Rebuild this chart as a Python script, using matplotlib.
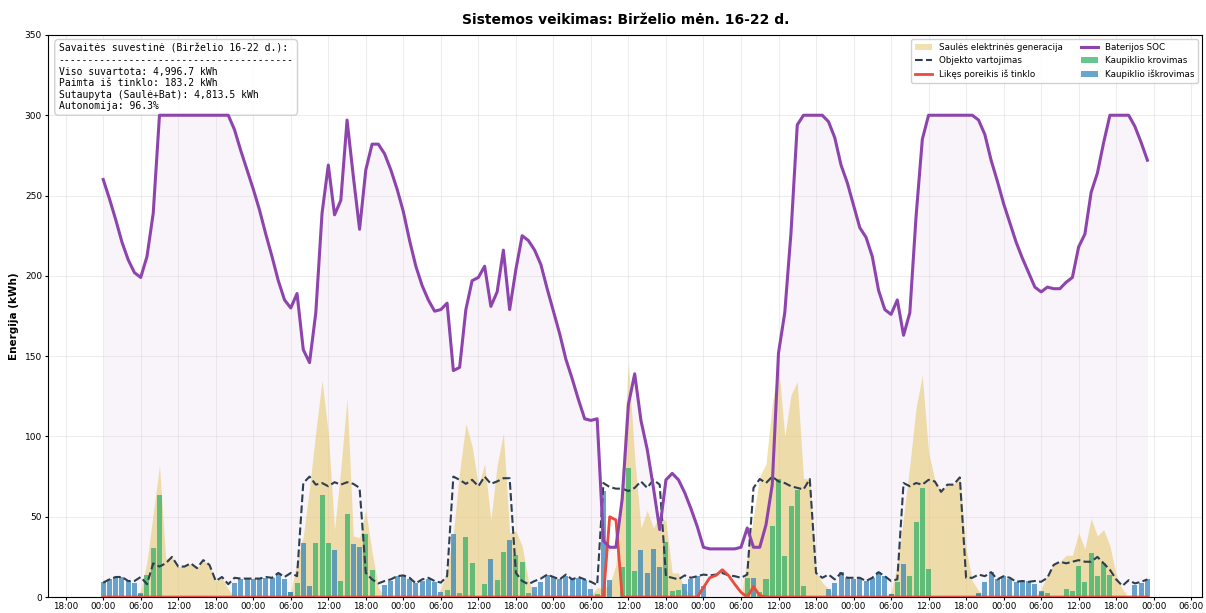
import numpy as np
import matplotlib
matplotlib.use('Agg')
import matplotlib.pyplot as plt
from matplotlib.patches import Patch
from matplotlib.lines import Line2D

# hourly values, 16-22 June (7 days x 24 h)
solar = [
    0, 0, 0, 0, 0, 0, 4, 22, 52, 82, 24, 25, 19, 19, 21, 18, 23, 20, 10, 12, 5, 0, 0, 0,
    0, 0, 0, 0, 0, 0, 3, 22, 38, 68, 103, 135, 102, 42, 80, 124, 38, 37, 54, 28, 6, 0, 0, 0,
    0, 0, 0, 0, 0, 0, 5, 17, 40, 78, 108, 94, 69, 83, 48, 82, 102, 40, 41, 32, 10, 2, 0, 0,
    0, 0, 0, 0, 0, 0, 1, 6, 5, 8, 20, 80, 146, 87, 43, 54, 43, 51, 47, 15, 15, 5, 1, 0,
    0, 0, 0, 0, 0, 0, 0, 24, 50, 75, 83, 120, 145, 100, 126, 134, 74, 73, 16, 9, 5, 1, 0, 0,
    0, 0, 0, 0, 0, 0, 3, 20, 50, 82, 118, 138, 90, 73, 66, 70, 70, 75, 30, 10, 4, 1, 0, 0,
    0, 0, 0, 0, 0, 0, 5, 14, 20, 22, 26, 26, 40, 30, 49, 38, 42, 32, 14, 5, 0, 0, 0, 0,
]
consumption = [
    9, 11, 12.5, 12.5, 10, 10, 12.5, 8, 21, 19, 21, 25, 19, 19, 21, 18, 23, 20, 10, 12.5, 8, 12, 11.5, 11.5,
    11.5, 11.5, 12.5, 12, 15, 12.5, 15, 13, 71, 75, 70, 71, 69, 71.5, 70, 71.5, 70.5, 68, 15, 11, 8.5, 10, 11, 13,
    13.5, 12, 8.5, 11, 12, 10, 9, 13, 75, 73, 70.5, 73, 69, 75, 70.5, 72, 74, 74, 15, 10, 8, 10, 11.5, 14,
    12.5, 11, 14, 11, 12.5, 11, 9.5, 7.5, 71, 68.5, 67.5, 67.5, 66, 68, 72, 68, 73, 70, 13, 12, 11, 13.5, 12, 13,
    14, 13.5, 14, 15, 13.5, 13, 12, 14, 68, 73.5, 71, 75, 72, 71, 69, 68, 67, 73.5, 15, 12, 14, 11, 15, 12,
    12, 12, 10, 12, 15.5, 13, 10, 11, 71, 69, 71, 70, 73, 72, 65.5, 70, 70, 74.5, 12, 12, 14, 13, 15.5, 11,
    13, 12, 9.5, 10, 9.5, 10, 9.5, 12, 20, 22, 21, 22, 23, 22, 22, 25, 21, 17, 11, 7, 10.5, 8.5, 9.5, 11,
]
discharge = [
    9.5, 11, 12.5, 12.5, 10, 8.5, 2, 0, 0, 0, 0, 0, 0, 0, 0, 0, 0, 0, 0, 0, 0, 8.5, 11.5, 11.5,
    11.5, 12, 12, 12, 15, 11, 3, 0, 33.5, 7, 0, 0, 0, 29.5, 0, 0, 33, 31, 0, 0, 0, 7.5, 10, 13,
    13.5, 11, 8.5, 10, 11, 9.5, 3, 0, 39.5, 0, 0, 0, 0, 0, 23.5, 0, 0, 35.5, 0, 0, 0, 6.5, 9.5, 14,
    12.5, 11, 13, 11, 12, 10.5, 5, 0, 66, 10.5, 0, 0, 0, 0, 29, 15, 30, 18.5, 0, 0, 0, 8, 11, 13,
    7, 0, 0, 0, 0, 0, 0, 0, 12, 0, 0, 0, 0, 0, 0, 0, 0, 0, 0, 0, 5, 8.5, 15.5, 12,
    11, 12, 10, 12, 15.5, 13, 2, 0, 20.5, 0, 0, 0, 0, 0, 0, 0, 0, 0, 0, 0, 2.5, 9.5, 15.5, 11,
    13, 11, 9.5, 9.5, 10, 8, 4, 0, 0, 0, 0, 0, 0, 0, 0, 0, 0, 0, 0, 0, 0, 7.5, 9, 11.5,
]
charge = [
    0, 0, 0, 0, 0, 0, 2.5, 14, 30.5, 63.5, 0, 0, 0, 0, 0, 0, 0, 0, 0, 0, 0, 0, 0, 0,
    0, 0, 0, 0, 0, 0, 3, 9, 0, 0, 33.5, 63.5, 33.5, 0, 10, 51.5, 0, 0, 39, 17, 0, 0, 0, 0,
    0, 0, 0, 0, 0, 0, 0, 4.5, 0, 2.5, 37.5, 21, 0, 8, 0, 10.5, 28, 0, 26, 22, 2.5, 0, 0, 0,
    0, 0, 0, 0, 0, 0, 0, 2, 0, 0, 0, 18.5, 80.5, 16.5, 0, 0, 0, 0, 34.5, 3.5, 4.5, 0, 0, 0,
    0, 0, 0, 0, 0, 0, 0, 12, 0, 3, 11.5, 44.5, 73.5, 25.5, 57, 66.5, 7, 0, 0, 0, 0, 0, 0, 0,
    0, 0, 0, 0, 0, 0, 2, 9.5, 0, 13, 46.5, 68, 17.5, 0, 0, 0, 0, 0, 0, 0, 2, 0, 0, 0,
    0, 0, 0, 0, 0, 0, 3, 2.5, 0, 0, 5, 3.5, 19.5, 9.5, 27.5, 13, 21, 14, 0, 0, 0, 0, 0, 0,
]
grid = [0] * 81 + [50, 48, 0] + [0] * 12 + [6, 12, 13.5, 17, 13.5, 8, 3, 0, 6.5, 1] + [0] * 62
soc = [
    260, 248, 235, 221, 210, 202, 199, 212, 239, 300, 300, 300, 300, 300, 300, 300, 300, 300, 300, 300, 300, 291, 278, 266,
    254, 241, 226, 212, 197, 185, 180, 189, 154, 146, 177, 239, 269, 238, 247, 297, 262, 229, 266, 282, 282, 276, 266, 254,
    240, 222, 206, 194, 185, 178, 179, 183, 141, 143, 179, 197, 199, 206, 181, 190, 216, 179, 204, 225, 222, 216, 207, 192,
    178, 164, 148, 136, 123, 111, 110, 111, 35, 31, 31, 61, 120, 139, 110, 92, 68, 42, 73, 77, 73, 65, 55, 44,
    31, 30, 30, 30, 30, 30, 31, 43, 31, 31, 45, 70, 152, 177, 227, 294, 300, 300, 300, 300, 296, 286, 269, 258,
    244, 230, 224, 212, 191, 179, 176, 185, 163, 177, 237, 285, 300, 300, 300, 300, 300, 300, 300, 300, 297, 288, 272, 259,
    245, 233, 221, 211, 202, 193, 190, 193, 192, 192, 196, 199, 218, 226, 252, 264, 283, 300, 300, 300, 300, 293, 283, 272,
]

summary = ("Savaitės suvestinė (Birželio 16-22 d.):\n"
           + "-" * 40 + "\n"
           "Viso suvartota: 4,996.7 kWh\n"
           "Paimta iš tinklo: 183.2 kWh\n"
           "Sutaupyta (Saulė+Bat): 4,813.5 kWh\n"
           "Autonomija: 96.3%")

hours = np.arange(len(soc))

fig, ax = plt.subplots(figsize=(12.06, 6.13), dpi=100)
fig.subplots_adjust(left=0.040, right=0.997, top=0.943, bottom=0.026)

ax.fill_between(hours, soc, color='#8e44ad', alpha=0.06, linewidth=0, zorder=1)
ax.fill_between(hours, solar, color='#e6c35c', alpha=0.5, linewidth=0, zorder=2)
ax.bar(hours, charge, width=0.8, color='#27ae60', alpha=0.7, zorder=3)
ax.bar(hours, discharge, width=0.8, color='#2980b9', alpha=0.7, zorder=3)
ax.plot(hours, consumption, color='#2c3e50', linestyle='--', linewidth=1.5, zorder=4)
ax.plot(hours, grid, color='#e74c3c', linewidth=2, zorder=5)
ax.plot(hours, soc, color='#8e44ad', linewidth=2.2, zorder=6)

ticks = np.arange(-6, 180, 6)
ax.set_xticks(ticks)
ax.set_xticklabels(['%02d:00' % (t % 24) for t in ticks], fontsize=6.3)
ax.tick_params(axis='x', length=2.5, pad=1)
ax.tick_params(axis='y', labelsize=6.5, length=2.5, pad=2)
ax.set_ylim(0, 350)
ax.grid(True, color='#dddddd', alpha=0.5, linewidth=0.8)
ax.set_ylabel('Energija (kWh)', fontsize=7.5, fontweight='bold')
ax.set_title('Sistemos veikimas: Birželio mėn. 16-22 d.', fontsize=10, fontweight='bold', pad=8)

handles = [
    Patch(facecolor='#e6c35c', alpha=0.5),
    Line2D([], [], color='#2c3e50', linestyle='--', linewidth=1.5),
    Line2D([], [], color='#e74c3c', linewidth=2),
    Line2D([], [], color='#8e44ad', linewidth=2.2),
    Patch(facecolor='#27ae60', alpha=0.7),
    Patch(facecolor='#2980b9', alpha=0.7),
]
labels = ['Saulės elektrinės generacija', 'Objekto vartojimas', 'Likęs poreikis iš tinklo',
          'Baterijos SOC', 'Kaupiklio krovimas', 'Kaupiklio iškrovimas']
ax.legend(handles, labels, loc='upper right', ncol=2, fontsize=6.3, framealpha=0.9)

ax.text(0.009, 0.985, summary, transform=ax.transAxes, va='top', ha='left',
        family='DejaVu Sans Mono', fontsize=7,
        bbox=dict(boxstyle='round,pad=0.4', facecolor='white', edgecolor='#cccccc', alpha=0.9))

plt.savefig('out.png', dpi=100)
